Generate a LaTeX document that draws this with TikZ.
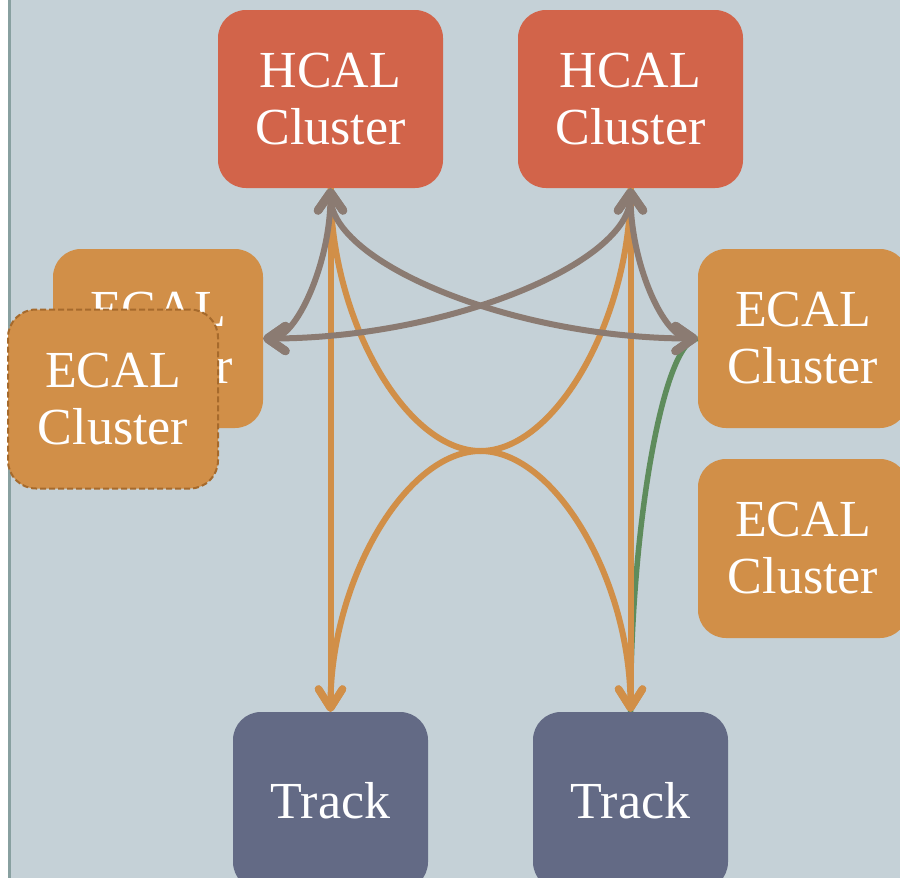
\documentclass[tikz,border=0pt]{standalone}
\usepackage{fontspec}
\setmainfont{Liberation Serif}
\usetikzlibrary{arrows.meta}
\definecolor{bg}{HTML}{C5D1D7}
\definecolor{edgeline}{HTML}{88A0A0}
\definecolor{hcal}{HTML}{D2644A}
\definecolor{ecal}{HTML}{D18F48}
\definecolor{track}{HTML}{636A85}
\definecolor{greyarr}{HTML}{8B7B72}
\definecolor{greenln}{HTML}{5E8C5C}
\definecolor{dashbrd}{HTML}{A66A2C}
\begin{document}
\begin{tikzpicture}[x=1pt,y=-1pt,
  box/.style={rounded corners=28pt, inner sep=0pt, align=center, text=white,
    font=\fontsize{52}{57}\selectfont},
  hcalbox/.style={box, fill=hcal, minimum width=225pt, minimum height=178pt},
  ecalbox/.style={box, fill=ecal, minimum width=210pt, minimum height=179pt},
  trackbox/.style={box, fill=track, minimum width=195pt, minimum height=178pt},
  dashbox/.style={draw=dashbrd, line width=2pt, dash pattern=on 6pt off 3pt},
  gline/.style={draw=greyarr, line width=6pt,
    >={Straight Barb[length=18pt,width=25pt,line width=8.5pt,round]}, <->},
  oline/.style={draw=ecal, line width=6pt,
    >={Straight Barb[length=19pt,width=24pt,line width=7.5pt,round]}, ->},
  grline/.style={draw=greenln, line width=5.5pt}
]
\clip (0,0) rectangle (900,878);
\fill[white] (0,0) rectangle (900,878);
\fill[bg] (9,0) rectangle (900,878);
\fill[edgeline] (8,0) rectangle (11,878);

\node[hcalbox] (hl) at (330.5,99) {HCAL\\Cluster};
\node[hcalbox] (hr) at (630.5,99) {HCAL\\Cluster};
\node[ecalbox] (el) at (158,338.5) {ECAL\\Cluster};
\node[ecalbox, dashbox] (ef) at (113,399) {ECAL\\Cluster};
\node[ecalbox] (er1) at (803,338.5) {ECAL\\Cluster};
\node[ecalbox] (er2) at (803,548.5) {ECAL\\Cluster};
\node[trackbox] (tl) at (330.5,801) {Track};
\node[trackbox] (tr) at (630.5,801) {Track};

\coordinate (mid) at (480.5,451);

% green connector
\draw[grline] (tr.north) .. controls +(0,-186) and +(-34,0) .. (er1.west);

% orange connectors
\draw[oline] (hl.south) -- (tl.north);
\draw[oline] (hr.south) -- (tr.north);
\draw[oline] (hl.south) .. controls +(0,130.5) and +(-75,0) .. (mid)
  .. controls +(75,0) and +(0,-130.5) .. (tr.north);
\draw[oline] (hr.south) .. controls +(0,130.5) and +(75,0) .. (mid)
  .. controls +(-75,0) and +(0,-130.5) .. (tl.north);

% grey connectors
\draw[gline] (hl.south) .. controls +(0,75) and +(-184,0) .. (er1.west);
\draw[gline] (hr.south) .. controls +(0,75) and +(184,0) .. (el.east);
\draw[gline] (hl.south) .. controls +(0,75) and +(33,0) .. (el.east);
\draw[gline] (hr.south) .. controls +(0,75) and +(-34,0) .. (er1.west);
\end{tikzpicture}
\end{document}
